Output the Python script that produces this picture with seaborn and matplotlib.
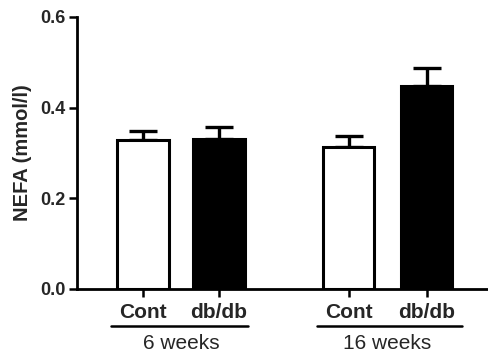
import matplotlib
matplotlib.use("Agg")
import matplotlib.pyplot as plt
import seaborn as sns
import pandas as pd
import numpy as np

# NEFA measurements (mean and SEM) per group
groups = ["Cont", "db/db", "Cont", "db/db"]
ages = ["6 weeks", "6 weeks", "16 weeks", "16 weeks"]
positions = [0.0, 1.0, 2.71, 3.74]
nefa_mean = [0.328, 0.330, 0.313, 0.448]
nefa_sem = [0.020, 0.026, 0.024, 0.039]
yticks = [0.0, 0.2, 0.4, 0.6]

df = pd.DataFrame({"pos": positions, "group": groups, "age": ages, "nefa": nefa_mean})

sns.set_theme(style="ticks")
plt.rcParams["font.family"] = ["Liberation Sans", "DejaVu Sans"]

fig = plt.figure(figsize=(4.88, 3.58), dpi=100)
ax = fig.add_axes([0.158, 0.193, 0.842, 0.76])

sns.barplot(data=df, x="pos", y="nefa", hue="group", native_scale=True, dodge=False,
            palette={"Cont": "white", "db/db": "black"}, edgecolor="black",
            linewidth=2.2, width=0.68, errorbar=None, legend=False, ax=ax, zorder=3)

# one-sided (upper) SEM error bars
ax.errorbar(df["pos"], df["nefa"], yerr=[np.zeros(len(nefa_sem)), nefa_sem],
            fmt="none", ecolor="black", elinewidth=2.4, capsize=10, capthick=2.4, zorder=2)

ax.set_xlim(-0.87, 4.55)
ax.set_ylim(0, 0.6)
ax.set_yticks(yticks)
ax.set_yticklabels([f"{v:.1f}" for v in yticks], fontsize=13, fontweight="bold")
ax.set_xticks(positions)
ax.set_xticklabels(groups, fontsize=15, fontweight="bold")
ax.tick_params(axis="both", width=1.8, length=6, color="black", pad=2)
ax.tick_params(axis="x", pad=4)
ax.set_xlabel("")
ax.set_ylabel("NEFA (mmol/l)", fontsize=14.5, fontweight="bold", labelpad=6)

for side in ["top", "right"]:
    ax.spines[side].set_visible(False)
for side in ["left", "bottom"]:
    ax.spines[side].set_linewidth(2)
    ax.spines[side].set_color("black")

# group brackets under the tick labels
bracket_pad = {"6 weeks": (0.42, 0.39), "16 weeks": (0.41, 0.47)}
for age in ["6 weeks", "16 weeks"]:
    sub = df[df["age"] == age]
    lpad, rpad = bracket_pad[age]
    x0, x1 = sub["pos"].min() - lpad, sub["pos"].max() + rpad
    ax.plot([x0, x1], [-0.0825, -0.0825], color="black", lw=1.8, clip_on=False)
    ax.text(sub["pos"].mean(), -0.121, age, ha="center", va="center", fontsize=15,
            clip_on=False)

fig.savefig("out.png", dpi=100, facecolor="white")
